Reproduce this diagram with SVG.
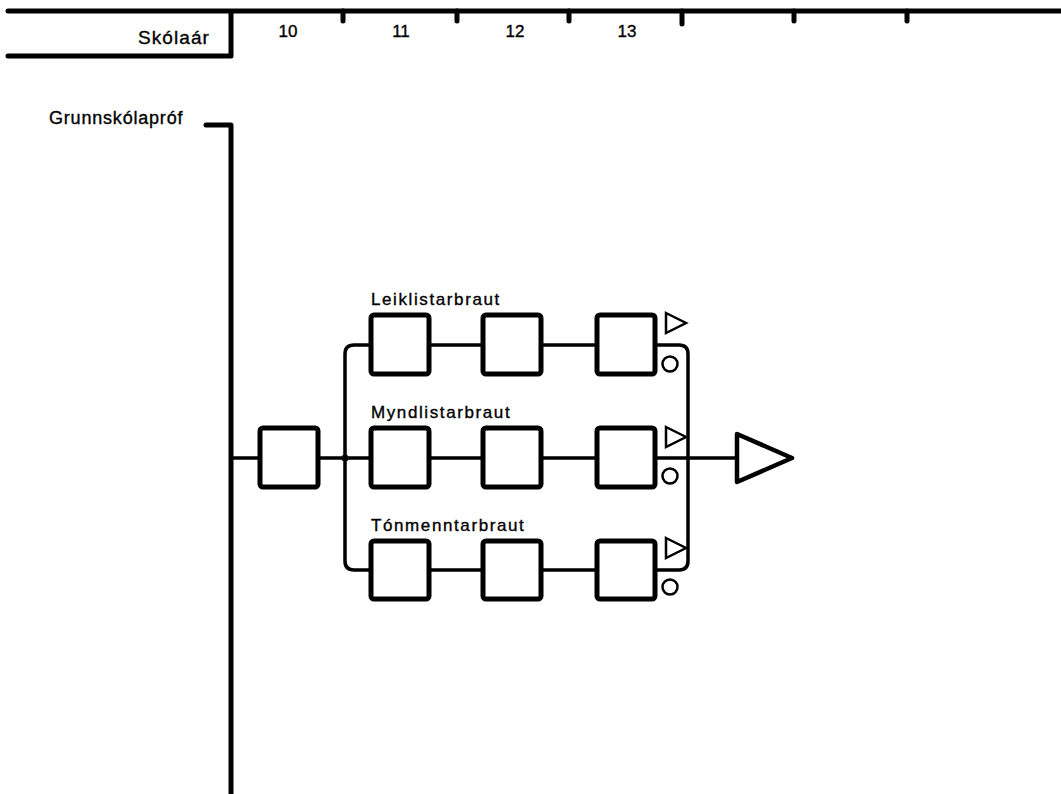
<svg xmlns="http://www.w3.org/2000/svg" width="1061" height="794" viewBox="0 0 1061 794">
<style>
.ln{fill:none;stroke:#000;stroke-linecap:round;stroke-linejoin:round}
.thick{stroke-width:5}
.mid{stroke-width:3.5}
.box{fill:#fff;stroke:#000;stroke-width:5}
.sym{fill:#fff;stroke:#000;stroke-width:2.5}
.t{font-family:"Liberation Sans",Arial,sans-serif;fill:#000;stroke:#000;stroke-width:0.35}
.lab{font-size:17px;letter-spacing:1.6px}
.num{font-size:17px;text-anchor:middle}
</style>
<rect width="1061" height="794" fill="#fff"/>
<g id="scale">
<path class="ln thick" d="M8,11 H1061 M8,56 H231 V11"/>
<path class="ln thick" d="M343,11 V21 M457,11 V21 M569,11 V21 M682,11 V24 M794,11 V21 M907,11 V21"/>
<text class="t" x="210" y="44" font-size="19" letter-spacing="1.1" text-anchor="end">Skólaár</text>
<text class="t num" x="288" y="37">10</text>
<text class="t num" x="401" y="37">11</text>
<text class="t num" x="515" y="37">12</text>
<text class="t num" x="627" y="37">13</text>
</g>
<g id="connectors">
<path class="ln thick" d="M206,125 H231 V794"/>
<path class="ln mid" d="M231,458 H260 M318,458 H371"/>
<path class="ln mid" d="M371,345 H354 Q345,345 345,354 V561 Q345,570 354,570 H371"/>
<circle cx="345" cy="458" r="3.5" fill="#000"/>
<path class="ln mid" d="M429,345 H483 M541,345 H597 M429,458 H483 M541,458 H597 M429,570 H483 M541,570 H597"/>
<path class="ln mid" d="M655,345 H679 Q688,345 688,354 V561 Q688,570 679,570 H655"/>
<path class="ln mid" d="M655,458 H737"/>
</g>
<g id="grunnskolaprof">
<text class="t" x="49" y="124" font-size="18" letter-spacing="0.8">Grunnskólapróf</text>
</g>
<g id="start-box"><rect class="box" x="260" y="428" width="58" height="59" rx="3"/></g>
<g id="leiklist">
<text class="t lab" x="371" y="305">Leiklistarbraut</text>
<rect class="box" x="371" y="315" width="58" height="59" rx="3"/>
<rect class="box" x="483" y="315" width="58" height="59" rx="3"/>
<rect class="box" x="597" y="315" width="58" height="59" rx="3"/>
<polygon class="sym" points="666,313 686,323 666,333"/>
<circle class="sym" cx="670" cy="364" r="7.5"/>
</g>
<g id="myndlist">
<text class="t lab" x="371" y="418">Myndlistarbraut</text>
<rect class="box" x="371" y="428" width="58" height="59" rx="3"/>
<rect class="box" x="483" y="428" width="58" height="59" rx="3"/>
<rect class="box" x="597" y="428" width="58" height="59" rx="3"/>
<polygon class="sym" points="666,427 686,437 666,447"/>
<circle class="sym" cx="670" cy="476" r="7.5"/>
</g>
<g id="tonmennt">
<text class="t lab" x="371" y="531">Tónmenntarbraut</text>
<rect class="box" x="371" y="541" width="58" height="58" rx="3"/>
<rect class="box" x="483" y="541" width="58" height="58" rx="3"/>
<rect class="box" x="597" y="541" width="58" height="58" rx="3"/>
<polygon class="sym" points="666,538 686,548 666,558"/>
<circle class="sym" cx="670" cy="587" r="7.5"/>
</g>
<g id="end">
<polygon points="737,434 792,458 737,482" fill="#fff" stroke="#000" stroke-width="4.5" stroke-linejoin="round"/>
</g>
</svg>
